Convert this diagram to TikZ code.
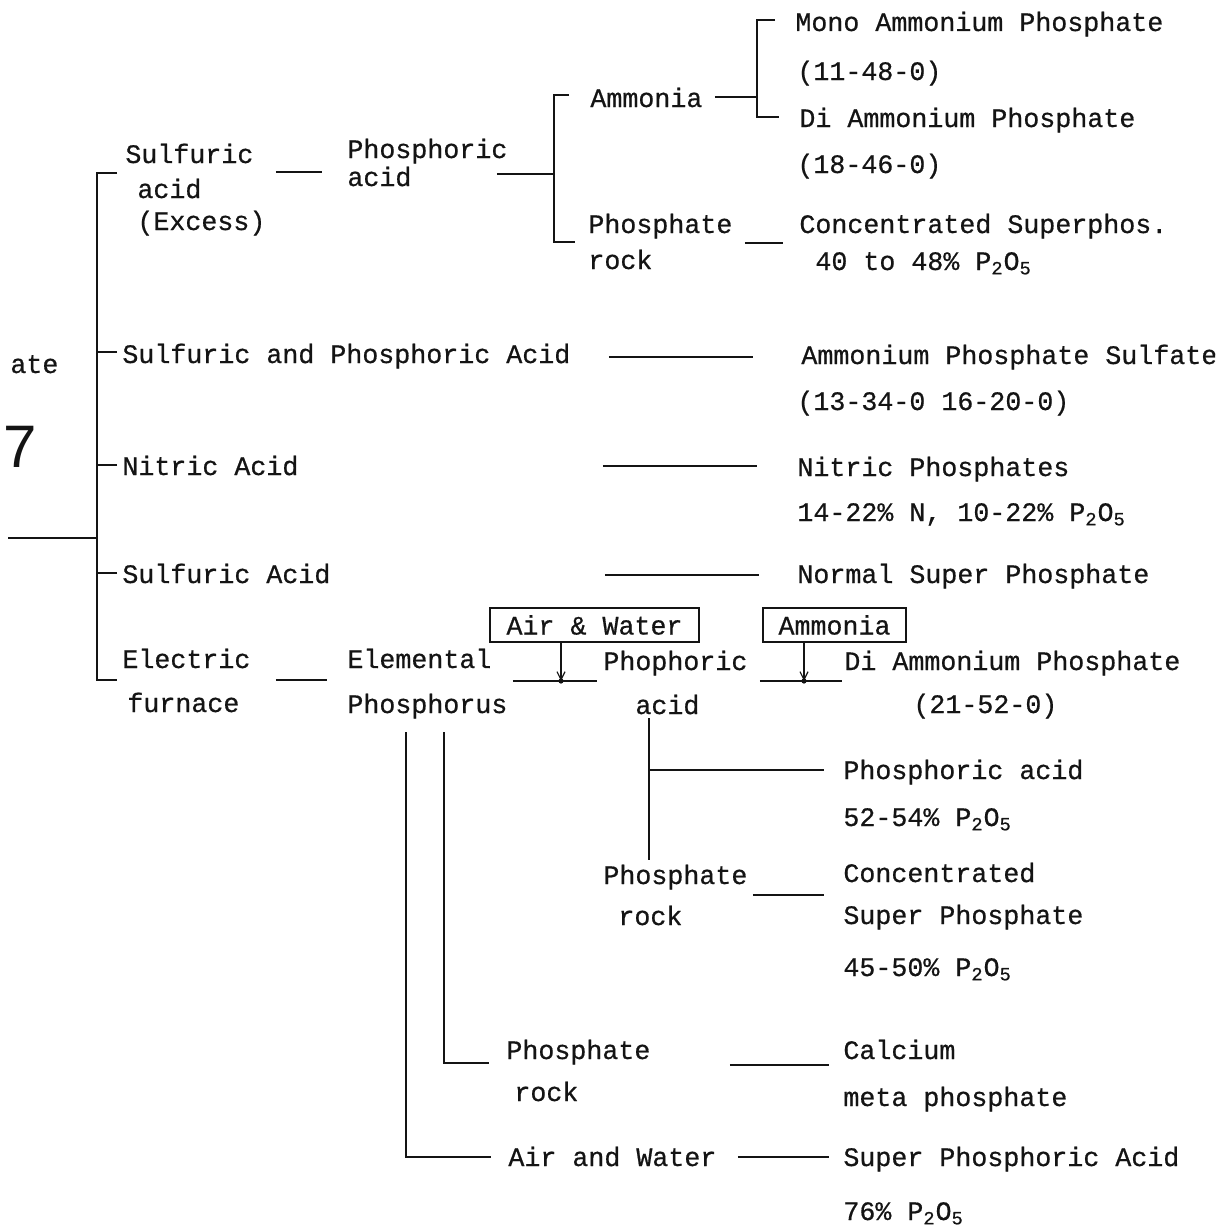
\documentclass[tikz,border=0pt]{standalone}
\usepackage{fontspec}
\setmainfont{Liberation Mono}[FakeBold=0.6]
\newfontfamily\handfont{Liberation Sans}
\usepackage{tikz}
\usetikzlibrary{arrows.meta, calc}
\definecolor{ink}{HTML}{141414}
\tikzstyle{typed} = [anchor=base west, inner sep=0pt, text=ink, font=\fontsize{13.33}{16}\selectfont]
\tikzstyle{inbox} = [draw=ink, line width=0.6pt, inner sep=0pt, minimum height=17pt, text=ink, font=\fontsize{13.33}{16}\selectfont]
\tikzstyle{link} = [draw=ink, line width=0.6pt]
\tikzstyle{feed} = [link, -{Straight Barb[length=4pt, width=4pt]}]

\begin{document}
\begin{tikzpicture}[x=0.5pt, y=-0.5pt]
    \useasboundingbox (0,0) rectangle (1215,1231);
    \clip (0,0) rectangle (1215,1231);

    \node[typed] (monoap) at (795,31) {Mono Ammonium Phosphate};
    \node[typed] (monograde) at (797,80) {(11-48-0)};
    \node[typed] (ammonia) at (590,107) {Ammonia};
    \node[typed] (diap) at (799,127) {Di Ammonium Phosphate};
    \node[typed] (diapgrade) at (797,173) {(18-46-0)};
    \node[typed] (sulfxs) at (125,163) {Sulfuric};
    \node[typed] (sulfxsb) at (137,198) {acid};
    \node[typed] (sulfxsc) at (137,230) {(Excess)};
    \node[typed] (phosacid) at (347,158) {Phosphoric};
    \node[typed] (phosacidb) at (347,186) {acid};
    \node[typed] (rockA) at (588,233) {Phosphate};
    \node[typed] (rockAb) at (588,269) {rock};
    \node[typed] (csp) at (799,233) {Concentrated Superphos.};
    \node[typed] (cspgrade) at (815,270) {40 to 48\% P\textsubscript{2}O\textsubscript{5}};

    \node[typed] (ate) at (10,373) {ate};
    \node[anchor=base west, inner sep=0pt, text=ink, font=\handfont\fontsize{30}{30}\selectfont] (seven) at (3,467) {7};
    \node[typed] (sapa) at (122,363) {Sulfuric and Phosphoric Acid};
    \node[typed] (aps) at (801,364) {Ammonium Phosphate Sulfate};
    \node[typed] (apsgrade) at (797,410) {(13-34-0 16-20-0)};
    \node[typed] (nitric) at (122,475) {Nitric Acid};
    \node[typed] (nitphos) at (797,476) {Nitric Phosphates};
    \node[typed] (nitgrade) at (797,521) {14-22\% N, 10-22\% P\textsubscript{2}O\textsubscript{5}};
    \node[typed] (sulf) at (122,583) {Sulfuric Acid};
    \node[typed] (nsp) at (797,583) {Normal Super Phosphate};

    \node[inbox, minimum width=104.5pt] (airbox) at (594.5,625) {Air \& Water};
    \node[inbox, minimum width=71.5pt] (nh3box) at (834.5,625) {Ammonia};
    \node[typed] (furnace) at (122,668) {Electric};
    \node[typed] (furnaceb) at (127,712) {furnace};
    \node[typed] (elem) at (347,668) {Elemental};
    \node[typed] (elemb) at (347,713) {Phosphorus};
    \node[typed] (phoacid) at (603,670) {Phophoric};
    \node[typed] (phoacidb) at (635,714) {acid};
    \node[typed] (dap) at (844,670) {Di Ammonium Phosphate};
    \node[typed] (dapgrade) at (913,713) {(21-52-0)};
    \node[typed] (pa) at (843,779) {Phosphoric acid};
    \node[typed] (pagrade) at (843,826) {52-54\% P\textsubscript{2}O\textsubscript{5}};
    \node[typed] (rockB) at (603,884) {Phosphate};
    \node[typed] (rockBb) at (618,925) {rock};
    \node[typed] (csp2) at (843,882) {Concentrated};
    \node[typed] (csp2b) at (843,924) {Super Phosphate};
    \node[typed] (csp2grade) at (843,976) {45-50\% P\textsubscript{2}O\textsubscript{5}};
    \node[typed] (rockC) at (506,1059) {Phosphate};
    \node[typed] (rockCb) at (514,1101) {rock};
    \node[typed] (calcium) at (843,1059) {Calcium};
    \node[typed] (calciumb) at (843,1106) {meta phosphate};
    \node[typed] (airwater) at (508,1166) {Air and Water};
    \node[typed] (spa) at (843,1166) {Super Phosphoric Acid};
    \node[typed] (spagrade) at (843,1220) {76\% P\textsubscript{2}O\textsubscript{5}};

    \coordinate (root) at (8,538);
    \coordinate (spine) at (97,538);
    \coordinate (pajoin) at (554,174);
    \coordinate (nh3join) at (757,97);
    \coordinate (awjoin) at (561,681);
    \coordinate (nhjoin) at (804,681);
    \coordinate (pabranch) at (649,770);
    \coordinate (acidfoot) at (649,860);

    \draw[link] (root) -- (spine);
    \draw[link] ($(sulfxs.base west)+(-8,10)$) -| (spine) |- ($(furnace.base west)+(-5,12)$);
    \draw[link] ($(sapa.base west)+(-5,-11)$) -- ++(-20,0);
    \draw[link] ($(nitric.base west)+(-5,-10)$) -- ++(-20,0);
    \draw[link] ($(sulf.base west)+(-5,-10)$) -- ++(-20,0);

    \draw[link] ($(sulfxs.base east)+(22,9)$) -- ($(phosacid.base west)+(-25,14)$);
    \draw[link] ($(phosacid.base east)+(-11,16)$) -- (pajoin);
    \draw[link] ($(ammonia.base west)+(-21,-12)$) -| (pajoin) |- ($(rockA.base west)+(-13,9)$);
    \draw[link] ($(ammonia.base east)+(12,-10)$) -- (nh3join);
    \draw[link] ($(monoap.base west)+(-20,-11)$) -| (nh3join) |- ($(diap.base west)+(-20,-10)$);
    \draw[link] ($(rockA.base east)+(12,10)$) -- ($(csp.base west)+(-16,10)$);

    \draw[link] ($(sapa.base east)+(38,-6)$) -- ($(aps.base west)+(-48,-7)$);
    \draw[link] ($(nitric.base east)+(304,-9)$) -- ($(nitphos.base west)+(-40,-10)$);
    \draw[link] ($(sulf.base east)+(274,-8)$) -- ($(nsp.base west)+(-38,-8)$);

    \draw[link] ($(furnace.base east)+(25,12)$) -- ($(elem.base west)+(-20,12)$);
    \draw[link] ($(elem.base east)+(21,13)$) -- ($(phoacid.base west)+(-6,11)$);
    \draw[link] ($(phoacid.base east)+(12,11)$) -- ($(dap.base west)+(-2,11)$);
    \draw[feed] (airbox.south -| awjoin) -- (awjoin);
    \fill[ink] (awjoin) circle (1.3pt);
    \draw[feed] (nh3box.south -| nhjoin) -- (nhjoin);
    \fill[ink] (nhjoin) circle (1.3pt);

    \draw[link] ($(phoacidb.base west)+(14,4)$) -- (acidfoot);
    \draw[link] (pabranch) -- ($(pa.base west)+(-19,-9)$);
    \draw[link] ($(rockB.base east)+(5,11)$) -- ($(csp2.base west)+(-19,13)$);
    \draw[link] ($(elemb.base west)+(59,19)$) |- ($(airwater.base west)+(-17,-9)$);
    \draw[link] ($(elemb.base west)+(97,19)$) |- ($(rockC.base west)+(-17,4)$);
    \draw[link] ($(rockC.base east)+(79,6)$) -- ($(calcium.base west)+(-14,6)$);
    \draw[link] ($(airwater.base east)+(21,-9)$) -- ($(spa.base west)+(-14,-9)$);
\end{tikzpicture}
\end{document}
